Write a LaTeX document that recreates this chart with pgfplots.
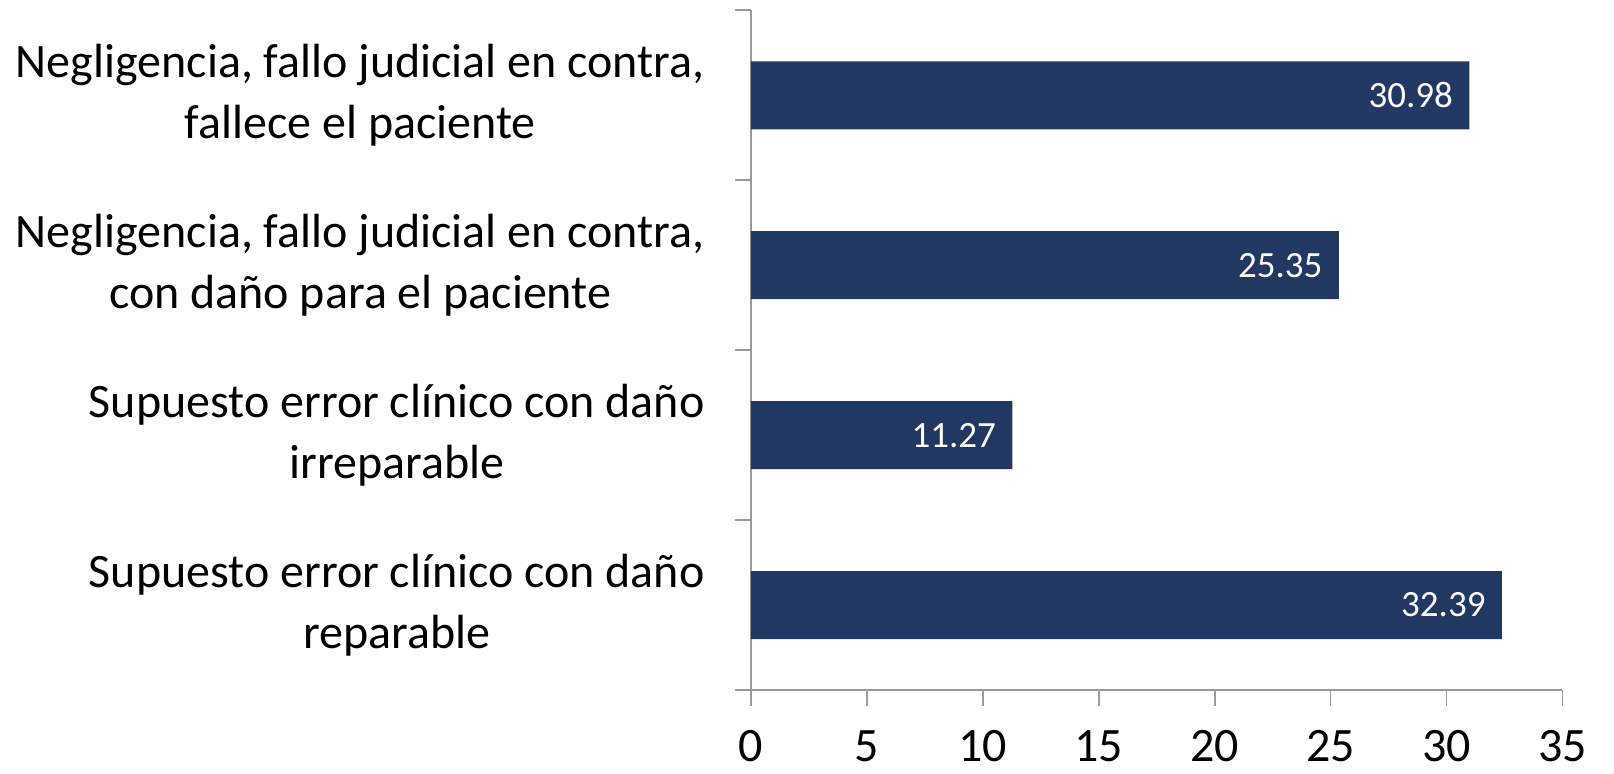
\documentclass[border=0pt]{standalone}
\usepackage{fontspec}
\setmainfont{Carlito}
\usepackage{pgfplots}
\pgfplotsset{compat=1.18}
\definecolor{barblue}{HTML}{213863}
\definecolor{axgray}{HTML}{9A9A9A}
\begin{document}
\begin{tikzpicture}
\begin{axis}[
  name=ax,
  scale only axis,
  width=405.75pt, height=339.9pt,
  xbar, bar width=0.4, bar shift=0pt,
  xmin=0, xmax=35, ymin=-0.5, ymax=3.5,
  axis x line*=bottom, axis y line*=left,
  axis line style={axgray, line width=0.8pt},
  xtick={0,5,...,35},
  tick align=outside,
  major tick length=8pt,
  tick style={axgray, line width=0.8pt},
  /pgf/number format/assume math mode=true,
  xticklabel style={font=\fontsize{24}{29}\selectfont, inner sep=0pt, anchor=north, yshift=-12pt},
  ytick={-0.5,0.5,1.5,2.5,3.5},
  yticklabels={},
  extra y ticks={0,1,2,3},
  extra y tick labels={{Supuesto error clínico con daño\\reparable},{Supuesto error clínico con daño\\irreparable},{Negligencia, fallo judicial en contra,\\con daño para el paciente},{Negligencia, fallo judicial en contra,\\fallece el paciente}},
  extra y tick style={major tick length=0pt},
  yticklabel style={font=\fontsize{24}{30.5}\selectfont, align=center, anchor=east, inner sep=0pt, xshift=-23pt},
  point meta=explicit symbolic,
  nodes near coords,
  every node near coord/.append style={anchor=east, text=white, font=\fontsize{18.5}{22}\selectfont, inner sep=0pt, xshift=-8pt},
]
\addplot[fill=barblue, draw=none] coordinates {
  (32.39,0) [32.39]
  (11.27,1) [11.27]
  (25.35,2) [25.35]
  (30.98,3) [30.98]
};
\end{axis}
\pgfresetboundingbox
\path ([shift={(-375.5pt,-41.5pt)}]ax.south west) rectangle ([shift={(25.75pt,5.15pt)}]ax.north east);
\end{tikzpicture}
\end{document}
